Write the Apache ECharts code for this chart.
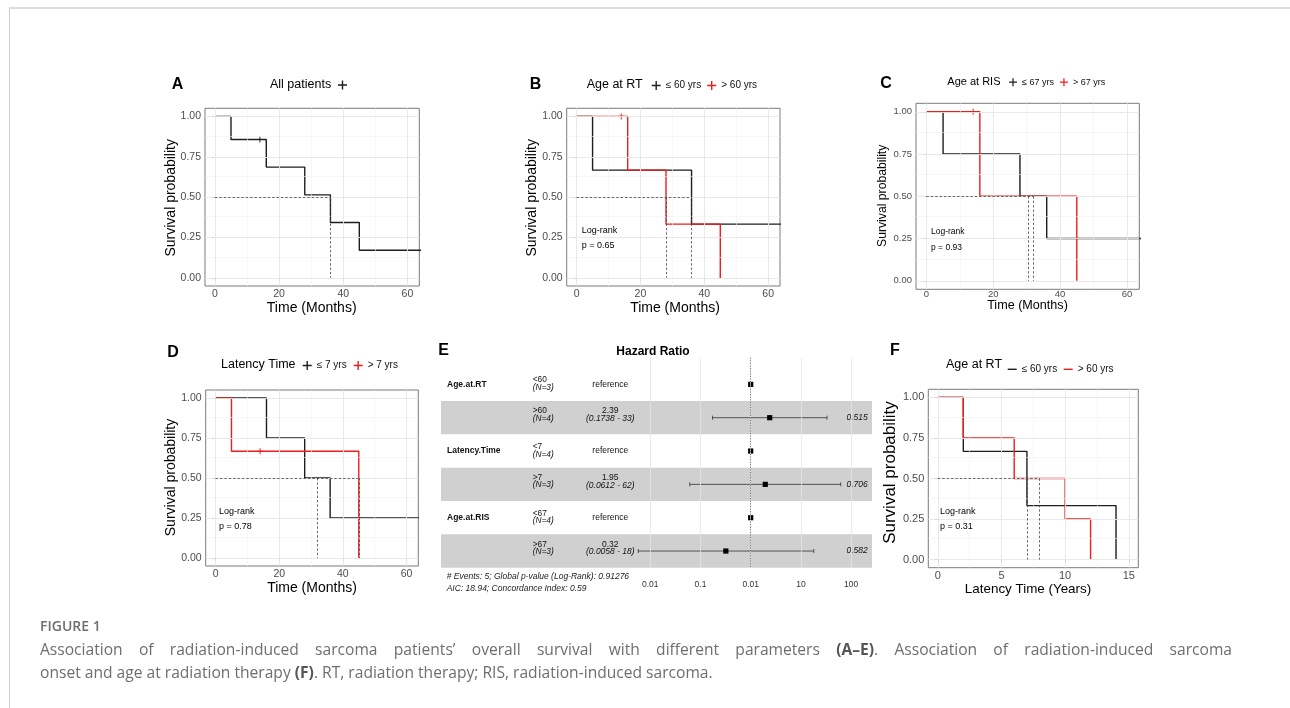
<!DOCTYPE html>
<html lang="en">
<head>
<meta charset="utf-8">
<title>Figure 1</title>
<script src="https://cdn.jsdelivr.net/npm/echarts@6.0.0/dist/echarts.min.js"></script>
<style>
  html, body { margin: 0; padding: 0; background: #fff; }
  #page { position: relative; width: 1290px; height: 708px; overflow: hidden; }
  #chart { position: absolute; left: 0; top: 0; width: 1290px; height: 612px; }
  #frame { position: absolute; left: 9px; top: 7px; width: 1300px; height: 720px;
           border-top: 2px solid #dedede; border-left: 1px solid #cfcfcf; }
  #caption { position: absolute; left: 40px; top: 616px; color: #6e6e6e; white-space: nowrap;
             font-family: "Open Sans", "Noto Sans", sans-serif; }
  #caption .fig { font-size: 14px; font-weight: 600; line-height: 20px; }
  #caption .line { font-size: 15.6px; line-height: 23px; }
  #caption .first { width: 1192px; margin-top: 1.5px; text-align: justify; text-align-last: justify; white-space: normal; }
  #caption b { font-weight: 700; color: #555; }
</style>
</head>
<body>
<div id="page">
  <div id="chart"></div>
  <div id="frame"></div>
  <div id="caption">
    <div class="fig">FIGURE 1</div>
    <div class="line first">Association of radiation-induced sarcoma patients’ overall survival with different parameters <b>(A–E)</b>. Association of radiation-induced sarcoma</div>
    <div class="line">onset and age at radiation therapy <b>(F)</b>. RT, radiation therapy; RIS, radiation-induced sarcoma.</div>
  </div>
</div>
<script>
// ---------- axis ticks ----------
const monthTicks = [0, 20, 40, 60];
const monthMinor = [10, 30, 50];
const yearTicks = [0, 5, 10, 15];
const yearMinor = [2.5, 7.5, 12.5];
const survTicks = [0, 0.25, 0.5, 0.75, 1];
const survMinor = [0.125, 0.375, 0.625, 0.875];
const survLabels = ['0.00', '0.25', '0.50', '0.75', '1.00'];

// ---------- A: all patients ----------
const allTime = [0, 5, 16, 28, 36, 45, 66];
const allSurv = [1, 0.857, 0.686, 0.514, 0.343, 0.171, 0.171];
const allCensorTime = [14];
const allCensorSurv = [0.857];
const allMedian = [36];

// ---------- B: age at RT ----------
const rtLowTime = [0, 5, 36, 66];
const rtLowSurv = [1, 0.667, 0.333, 0.333];
const rtHighTime = [0, 16, 28, 45];
const rtHighSurv = [1, 0.667, 0.333, 0];
const rtCensorTime = [14];
const rtCensorSurv = [1];
const rtMedian = [28, 36];

// ---------- C: age at RIS ----------
const risLowTime = [0, 5, 28, 36, 66];
const risLowSurv = [1, 0.75, 0.5, 0.25, 0.25];
const risHighTime = [0, 16, 45];
const risHighSurv = [1, 0.5, 0];
const risCensorTime = [14];
const risCensorSurv = [1];
const risMedian = [30.5, 32];

// ---------- D: latency time ----------
const latLowTime = [0, 16, 28, 36, 66];
const latLowSurv = [1, 0.75, 0.5, 0.25, 0.25];
const latHighTime = [0, 5, 45];
const latHighSurv = [1, 0.667, 0];
const latCensorTime = [14];
const latCensorSurv = [0.667];
const latMedian = [32, 45];

// ---------- F: sarcoma onset (years) ----------
const onLowTime = [0, 2, 7, 14];
const onLowSurv = [1, 0.667, 0.333, 0];
const onHighTime = [0, 2, 6, 10, 12];
const onHighSurv = [1, 0.75, 0.5, 0.25, 0];
const onMedian = [7, 8];

// log-rank p values (B, C, D, F)
const logRankP = ['0.65', '0.93', '0.78', '0.31'];

// ---------- E: hazard ratios ----------
const forestVars = ['Age.at.RT', '', 'Latency.Time', '', 'Age.at.RIS', ''];
const forestLevels = ['<60', '>60', '<7', '>7', '<67', '>67'];
const forestN = ['(N=3)', '(N=4)', '(N=4)', '(N=3)', '(N=4)', '(N=3)'];
const forestHR = [1, 2.39, 1, 1.95, 1, 0.32];
const forestLow = [null, 0.1738, null, 0.0612, null, 0.0058];
const forestHigh = [null, 33, null, 62, null, 18];
const forestHRText = ['reference', '2.39', 'reference', '1.95', 'reference', '0.32'];
const forestCIText = ['', '(0.1738 - 33)', '', '(0.0612 - 62)', '', '(0.0058 - 18)'];
const forestP = ['', '0.515', '', '0.706', '', '0.582'];
const forestTicks = [0.01, 0.1, 1, 10, 100];
const forestTickLabels = ['0.01', '0.1', '0.01', '10', '100'];
const forestNotes = ['# Events: 5; Global p-value (Log-Rank): 0.91276', 'AIC: 18.94; Concordance Index: 0.59'];

// ---------- styles ----------
const FONT = '"Liberation Sans", Arial, Helvetica, sans-serif';
const INK = '#1e1e1e';
const RED = '#f01c1c';
const TICK_INK = '#4d4d4d';
const PLUS = 'path://M3.8,0H5.2V3.8H9V5.2H5.2V9H3.8V5.2H0V3.8H3.8Z';
const CENSOR = 'path://M3.6,0H5.4V3.6H9V5.4H5.4V9H3.6V5.4H0V3.6H3.6Z';

const findTick = (list, v) => list.findIndex(t => Math.abs(t - v) < 1e-6);
const survLabelOf = v => { const k = findTick(survTicks, v); return k < 0 ? '' : survLabels[k]; };
const forestLog = forestTicks.map(t => Math.log10(t));
const forestLabelOf = v => { const k = findTick(forestLog, v); return k < 0 ? '' : forestTickLabels[k]; };

function markLineOf(data, extra) {
  return Object.assign({ silent: true, symbol: 'none', animation: false,
    label: { show: false }, emphasis: { disabled: true }, data }, extra || {});
}

function gridLines(xMajor, xMinor) {
  const minor = { type: 'solid', color: '#f1f1f1', width: 0.6 };
  const major = { type: 'solid', color: '#e6e6e6', width: 0.9 };
  return [
    ...xMinor.map(v => ({ xAxis: v, lineStyle: minor })),
    ...survMinor.map(v => ({ yAxis: v, lineStyle: minor })),
    ...xMajor.map(v => ({ xAxis: v, lineStyle: major })),
    ...survTicks.map(v => ({ yAxis: v, lineStyle: major }))
  ];
}

function note(text, x, y, size, o) {
  o = o || {};
  const align = o.align || 'left';
  return { type: 'text', x: x, y: y, rotation: o.rotate || 0, silent: true, z: 10,
    style: { text: text, fill: o.fill || '#000', fontSize: size, fontFamily: FONT,
      fontWeight: o.weight || 'normal', fontStyle: o.italic ? 'italic' : 'normal',
      align: align, verticalAlign: 'middle', textAlign: align, textVerticalAlign: 'middle' } };
}

// ---------- Kaplan-Meier panels ----------
const kmPanels = [
  { box: [205, 108.3, 214.3, 177.7], x: [-3.1, 63.7], xTicks: monthTicks, xMinor: monthMinor, tick: 10.5, xMargin: 3, tickLen: 3,
    curves: [{ name: 'All patients', color: INK, time: allTime, surv: allSurv, ct: allCensorTime, cs: allCensorSurv }],
    median: allMedian,
    legend: { data: ['All patients'], left: 338, top: 80.5, icon: PLUS, itemWidth: 9, itemHeight: 9, formatter: () => '' } },
  { box: [566.7, 108.3, 213.3, 177.7], x: [-3.1, 63.7], xTicks: monthTicks, xMinor: monthMinor, tick: 10.5, xMargin: 3, tickLen: 3,
    curves: [{ name: '≤ 60 yrs', color: INK, time: rtLowTime, surv: rtLowSurv },
             { name: '> 60 yrs', color: RED, time: rtHighTime, surv: rtHighSurv, ct: rtCensorTime, cs: rtCensorSurv }],
    median: rtMedian,
    legend: { data: ['≤ 60 yrs', '> 60 yrs'], left: 651.7, top: 80.5, icon: PLUS, itemWidth: 9, itemHeight: 9, itemGap: 6 } },
  { box: [916, 103.3, 223.3, 186], x: [-3.1, 63.7], xTicks: monthTicks, xMinor: monthMinor, tick: 9.5, xMargin: 0.5, tickLen: 2.5,
    curves: [{ name: '≤ 67 yrs', color: INK, time: risLowTime, surv: risLowSurv },
             { name: '> 67 yrs', color: RED, time: risHighTime, surv: risHighSurv, ct: risCensorTime, cs: risCensorSurv }],
    median: risMedian,
    legend: { data: ['≤ 67 yrs', '> 67 yrs'], left: 1009, top: 77.7, icon: PLUS, itemWidth: 8, itemHeight: 8, itemGap: 6,
      textStyle: { fontSize: 9, color: '#111', fontFamily: FONT } } },
  { box: [205.7, 390, 212.6, 176], x: [-3.1, 63.7], xTicks: monthTicks, xMinor: monthMinor, tick: 10.5, xMargin: 3, tickLen: 3,
    curves: [{ name: '≤ 7 yrs', color: INK, time: latLowTime, surv: latLowSurv },
             { name: '> 7 yrs', color: RED, time: latHighTime, surv: latHighSurv, ct: latCensorTime, cs: latCensorSurv }],
    median: latMedian,
    legend: { data: ['≤ 7 yrs', '> 7 yrs'], left: 302.7, top: 360.5, icon: PLUS, itemWidth: 9, itemHeight: 9, itemGap: 7 } },
  { box: [928.3, 389.3, 210, 178.4], x: [-0.75, 15.75], xTicks: yearTicks, xMinor: yearMinor, tick: 11, xMargin: 3, tickLen: 3,
    curves: [{ name: '≤ 60 yrs', color: INK, time: onLowTime, surv: onLowSurv },
             { name: '> 60 yrs', color: RED, time: onHighTime, surv: onHighSurv }],
    median: onMedian,
    legend: { data: ['≤ 60 yrs', '> 60 yrs'], left: 1007.7, top: 364.3, icon: 'rect', itemWidth: 9, itemHeight: 1.4, itemGap: 6.5 } }
];

const grid = [], xAxis = [], yAxis = [], series = [], legend = [];

kmPanels.forEach((p, i) => {
  grid.push({ left: p.box[0], top: p.box[1], width: p.box[2], height: p.box[3],
    show: true, borderColor: '#7a7a7a', borderWidth: 1 });
  xAxis.push({ type: 'value', gridIndex: i, min: p.x[0], max: p.x[1],
    axisLine: { show: false }, splitLine: { show: false },
    axisTick: { show: true, customValues: p.xTicks, length: p.tickLen, lineStyle: { color: '#333', width: 0.8 } },
    axisLabel: { customValues: p.xTicks, margin: p.xMargin, color: TICK_INK, fontSize: p.tick, fontFamily: FONT } });
  yAxis.push({ type: 'value', gridIndex: i, min: -0.05, max: 1.05,
    axisLine: { show: false }, splitLine: { show: false },
    axisTick: { show: true, customValues: survTicks, length: p.tickLen, lineStyle: { color: '#333', width: 0.8 } },
    axisLabel: { customValues: survTicks, formatter: survLabelOf, margin: 4, color: TICK_INK, fontSize: p.tick, fontFamily: FONT } });

  series.push({ type: 'line', xAxisIndex: i, yAxisIndex: i, data: [], z: 1, silent: true,
    markLine: markLineOf(gridLines(p.xTicks, p.xMinor)) });

  p.curves.forEach(c => {
    series.push({ type: 'line', name: c.name, xAxisIndex: i, yAxisIndex: i, step: 'end',
      symbol: 'none', showSymbol: false, z: 2, silent: true,
      data: c.time.map((t, k) => [t, c.surv[k]]),
      lineStyle: { color: c.color, width: 1.4 }, itemStyle: { color: c.color } });
    if (c.ct) {
      series.push({ type: 'scatter', name: c.name + ' censored', xAxisIndex: i, yAxisIndex: i,
        symbol: CENSOR, symbolSize: 6, z: 4, silent: true,
        data: c.ct.map((t, k) => [t, c.cs[k]]), itemStyle: { color: c.color } });
    }
  });

  const mMax = Math.max(...p.median);
  const segs = [[{ coord: [0, 0.5] }, { coord: [mMax, 0.5] }]]
    .concat(p.median.map(m => [{ coord: [m, 0.5] }, { coord: [m, 0] }]));
  series.push({ type: 'line', xAxisIndex: i, yAxisIndex: i, data: [], z: 3, silent: true,
    markLine: markLineOf(segs, { lineStyle: { type: [2.4, 2], color: '#444', width: 0.8 } }) });

  legend.push(Object.assign({ padding: 0, selectedMode: false,
    textStyle: { fontSize: 10, color: '#111', fontFamily: FONT } }, p.legend));
});

// ---------- E: forest plot ----------
const E = grid.length;
grid.push({ left: 441, top: 357.7, width: 431, height: 210, show: false });
xAxis.push({ type: 'value', gridIndex: E, min: -6.163, max: 2.414,
  axisLine: { show: false }, axisTick: { show: false }, splitLine: { show: false },
  axisLabel: { customValues: forestLog, formatter: forestLabelOf, margin: 12, fontSize: 8.5, color: '#333', fontFamily: FONT } });
yAxis.push({ type: 'value', gridIndex: E, min: -0.3, max: 6, inverse: true, show: false });

const forestData = forestHR.map((hr, i) => [
  Math.log10(hr), i + 0.5,
  Math.log10(forestLow[i] == null ? hr : forestLow[i]),
  Math.log10(forestHigh[i] == null ? hr : forestHigh[i])
]);

function rowText(x, y, text, size, o) {
  o = o || {};
  const align = o.align || 'left';
  return { type: 'text', style: { x: x, y: y, text: text, fill: '#111', fontSize: size, fontFamily: FONT,
    fontWeight: o.weight || 'normal', fontStyle: o.italic ? 'italic' : 'normal',
    align: align, verticalAlign: 'middle', textAlign: align, textVerticalAlign: 'middle' } };
}

series.push({ type: 'line', xAxisIndex: E, yAxisIndex: E, data: [], z: 1, silent: true,
  markLine: markLineOf(forestLog.map(v => ({ xAxis: v })), { lineStyle: { type: 'solid', color: '#e4e4e4', width: 0.8 } }) });

series.push({ type: 'custom', xAxisIndex: E, yAxisIndex: E, z: 2, silent: true,
  data: forestData,
  renderItem: (params, api) => {
    const i = params.dataIndex;
    if (i % 2 === 0) return null;
    const cs = params.coordSys;
    const top = api.coord([0, i])[1];
    const bottom = api.coord([0, i + 1])[1];
    return { type: 'rect', shape: { x: cs.x, y: top, width: cs.width, height: bottom - top }, style: { fill: '#d0d0d0' } };
  } });

series.push({ type: 'line', xAxisIndex: E, yAxisIndex: E, data: [], z: 3, silent: true,
  markLine: markLineOf([{ xAxis: 0 }], { lineStyle: { type: [1, 1.6], color: '#444', width: 0.8 } }) });

series.push({ type: 'custom', xAxisIndex: E, yAxisIndex: E, z: 4, silent: true,
  data: forestData,
  renderItem: (params, api) => {
    const i = params.dataIndex;
    const cs = params.coordSys;
    const mid = api.coord([api.value(0), api.value(1)]);
    const lo = api.coord([api.value(2), api.value(1)])[0];
    const hi = api.coord([api.value(3), api.value(1)])[0];
    const y = mid[1];
    const hasCI = forestLow[i] != null;
    const kids = [];
    if (forestVars[i]) kids.push(rowText(cs.x + 6, y, forestVars[i], 8.5, { weight: 'bold' }));
    kids.push(rowText(cs.x + 91.7, y + (hasCI ? -6.8 : -4.2), forestLevels[i], 8.3));
    kids.push(rowText(cs.x + 91.7, y + (hasCI ? 0.6 : 3.2), forestN[i], 8.3, { italic: true }));
    if (hasCI) {
      kids.push(rowText(cs.x + 169.3, y - 6.8, forestHRText[i], 8.5, { align: 'center' }));
      kids.push(rowText(cs.x + 169.3, y + 0.8, forestCIText[i], 8.5, { align: 'center', italic: true }));
      kids.push(rowText(cs.x + cs.width - 4.3, y, forestP[i], 8.5, { align: 'right', italic: true }));
      const ls = { stroke: '#333', lineWidth: 0.8 };
      kids.push({ type: 'line', shape: { x1: lo, y1: y, x2: hi, y2: y }, style: ls });
      kids.push({ type: 'line', shape: { x1: lo, y1: y - 2, x2: lo, y2: y + 2 }, style: ls });
      kids.push({ type: 'line', shape: { x1: hi, y1: y - 2, x2: hi, y2: y + 2 }, style: ls });
    } else {
      kids.push(rowText(cs.x + 169.3, y, forestHRText[i], 8.5, { align: 'center' }));
    }
    kids.push({ type: 'rect', shape: { x: mid[0] - 2.6, y: y - 2.6, width: 5.2, height: 5.2 }, style: { fill: '#000' } });
    return { type: 'group', children: kids };
  } });

// ---------- texts ----------
const ROT = Math.PI / 2;
const texts = [
  note('A', 177.5, 84.5, 16, { weight: 'bold', align: 'center' }),
  note('B', 535.5, 84.5, 16, { weight: 'bold', align: 'center' }),
  note('C', 886, 83.5, 16, { weight: 'bold', align: 'center' }),
  note('D', 173, 352.5, 16, { weight: 'bold', align: 'center' }),
  note('E', 443.5, 351, 16, { weight: 'bold', align: 'center' }),
  note('F', 895, 351, 16, { weight: 'bold', align: 'center' }),

  note('All patients', 270, 85, 12.5),
  note('Age at RT', 586.7, 85, 12.5),
  note('Age at RIS', 947.3, 81.7, 11),
  note('Latency Time', 221, 365, 12.5),
  note('Age at RT', 946, 365, 12.5),
  note('Hazard Ratio', 653, 352, 12, { weight: 'bold', align: 'center' }),

  note('Time (Months)', 311.7, 308.3, 14, { align: 'center' }),
  note('Survival probability', 171, 197.8, 14, { align: 'center', rotate: ROT }),
  note('Time (Months)', 675, 308.3, 14, { align: 'center' }),
  note('Survival probability', 532, 197.8, 14, { align: 'center', rotate: ROT }),
  note('Time (Months)', 1027.5, 305.5, 12.6, { align: 'center' }),
  note('Survival probability', 882.3, 195.8, 12.2, { align: 'center', rotate: ROT }),
  note('Time (Months)', 312, 588.3, 14, { align: 'center' }),
  note('Survival probability', 171, 477.5, 14, { align: 'center', rotate: ROT }),
  note('Latency Time (Years)', 1028, 589, 13.4, { align: 'center' }),
  note('Survival probability', 890.7, 472.5, 17, { align: 'center', rotate: ROT }),

  note('Log-rank', 581.7, 230.7, 9),
  note('p = ' + logRankP[0], 581.7, 245.7, 9),
  note('Log-rank', 931, 231.7, 8.5),
  note('p = ' + logRankP[1], 931, 247.7, 8.5),
  note('Log-rank', 219, 512, 9),
  note('p = ' + logRankP[2], 219, 527, 9),
  note('Log-rank', 940, 511.7, 9),
  note('p = ' + logRankP[3], 940, 526.7, 9),

  note(forestNotes[0], 446.7, 576.7, 8.5, { italic: true, fill: '#222' }),
  note(forestNotes[1], 446.7, 588.3, 8.5, { italic: true, fill: '#222' })
];

const chart = echarts.init(document.getElementById('chart'), null, { renderer: 'canvas' });
chart.setOption({
  backgroundColor: 'transparent',
  animation: false,
  textStyle: { fontFamily: FONT },
  grid: grid,
  xAxis: xAxis,
  yAxis: yAxis,
  legend: legend,
  series: series,
  graphic: { elements: texts }
});
</script>
</body>
</html>
